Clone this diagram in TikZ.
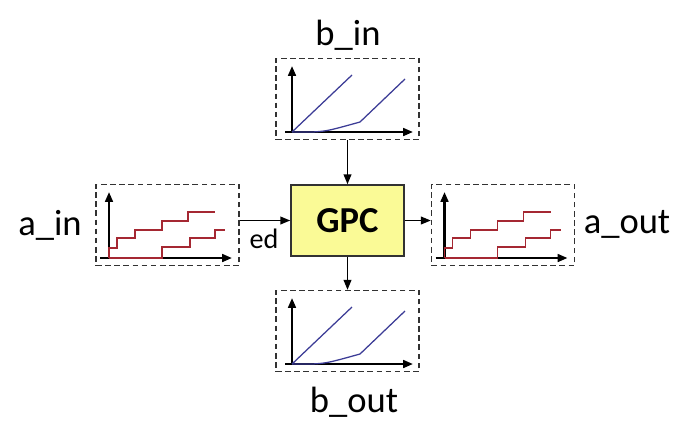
\documentclass[tikz,border=0pt]{standalone}
\usepackage{fontspec}
\setmainfont{Carlito}
\usetikzlibrary{arrows.meta, positioning}
\definecolor{gpcyellow}{RGB}{250,250,150}
\definecolor{stairred}{RGB}{165,40,50}
\definecolor{rampblue}{RGB}{60,60,150}
\definecolor{boxgray}{RGB}{50,50,50}

% plot drawn inside a box, coordinates relative to the box centre
\newcommand{\rampplot}{%
  \draw[axisline] (-62.5,33) -- (65.5,33);
  \draw[axisline] (-55.5,33) -- (-55.5,-33);
  \draw[rampline] (-55.5,33) -- (4.5,-24);
  \draw[rampline] (-55.5,33) -- (-35,33) .. controls (-20,32) .. (12.5,23) -- (57.5,-20);
}
\newcommand{\stairplot}{%
  \draw[axisline] (-67.5,33) -- (64.5,33);
  \draw[axisline] (-58.5,33) -- (-58.5,-33);
  \draw[stairline] (-58.5,33) -- (-58.5,23) -- (-50.5,23) -- (-50.5,13) -- (-32.5,13) -- (-32.5,5)
     -- (-5.5,5) -- (-5.5,-4) -- (20.5,-4) -- (20.5,-13) -- (47.5,-13);
  \draw[stairline] (-58.5,33) -- (-5.5,33) -- (-5.5,22) -- (22.5,22) -- (22.5,13) -- (47.5,13)
     -- (47.5,5) -- (57.5,5);
}

\begin{document}
\begin{tikzpicture}[x=0.025cm, y=-0.025cm,
    plotbox/.style={draw=boxgray, line width=1pt, dash pattern=on 4pt off 2.5pt,
      minimum width=3.575cm, minimum height=2.025cm, inner sep=0pt},
    gpcbox/.style={draw=boxgray, line width=1.1pt, fill=gpcyellow,
      minimum width=2.825cm, minimum height=1.775cm, inner sep=0pt,
      font=\fontsize{26}{30}\selectfont\bfseries},
    conn/.style={-{Triangle[length=7pt, width=5.5pt]}, line width=1pt},
    axisline/.style={-{Triangle[length=7pt, width=5.5pt]}, line width=1.6pt},
    rampline/.style={rampblue, line width=0.9pt},
    stairline/.style={stairred, line width=0.9pt},
    lbl/.style={anchor=base, inner sep=0pt, font=\fontsize{26}{30}\selectfont}]
  \useasboundingbox (0,0) rectangle (682,422);
  % boxes
  \node[plotbox] (bin)  at (347.5,99)  {};
  \node[plotbox] (bout) at (347.5,331) {};
  \node[plotbox] (ain)  at (167.5,225) {};
  \node[plotbox] (aout) at (503,225)   {};
  \node[gpcbox]  (gpc)  at (347.5,220.5) {GPC};
  % curves inside the boxes
  \begin{scope}[shift={(bin.center)}] \rampplot \end{scope}
  \begin{scope}[shift={(bout.center)}] \rampplot \end{scope}
  \begin{scope}[shift={(ain.center)}] \stairplot \end{scope}
  \begin{scope}[shift={(aout.center)}] \stairplot \end{scope}
  % connectors
  \draw[conn] (bin) -- (gpc);
  \draw[conn] (gpc) -- (bout);
  \draw[conn] (gpc.west -| ain.east) -- (gpc.west);
  \draw[conn] (gpc.east) -- (gpc.east -| aout.west);
  \node[anchor=base, inner sep=0pt, font=\fontsize{20}{24}\selectfont] (ed) at (264,248) {ed};
  % labels
  \node[lbl] (binlbl)  at (348,45)  {b\_in};
  \node[lbl] (boutlbl) at (354,412) {b\_out};
  \node[lbl] (ainlbl)  at (50,235)  {a\_in};
  \node[lbl] (aoutlbl) at (627,233) {a\_out};
\end{tikzpicture}
\end{document}
